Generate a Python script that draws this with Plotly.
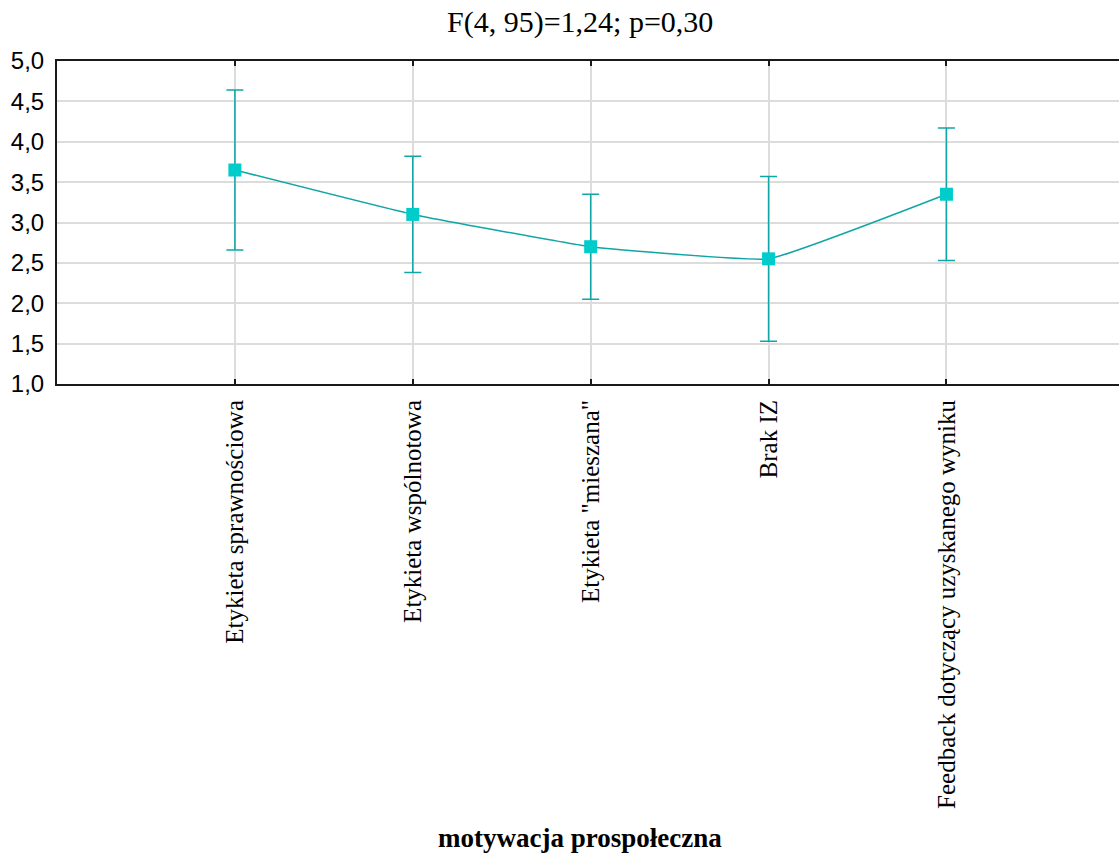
import plotly.graph_objects as go

categories = ["Etykieta sprawnościowa", "Etykieta wspólnotowa", "Etykieta \"mieszana\"",
              "Brak IZ", "Feedback dotyczący uzyskanego wyniku"]
means = [3.65, 3.10, 2.70, 2.55, 3.35]
err = [0.99, 0.72, 0.65, 1.02, 0.82]
y_ticks = [1.0, 1.5, 2.0, 2.5, 3.0, 3.5, 4.0, 4.5, 5.0]
title_text = "F(4, 95)=1,24; p=0,30"
x_title = "motywacja prospołeczna"

xpos = list(range(len(categories)))

W, H = 1119, 856
L, T, B = 57, 61, 472
R = 0
plot_w = W - L - R
plot_h = H - T - B

fig = go.Figure()
fig.add_trace(go.Scatter(
    x=xpos, y=means,
    mode="lines+markers",
    line=dict(color="#11a5a5", width=1.5, shape="spline", smoothing=0.3),
    marker=dict(symbol="square", size=13, color="#00cccc"),
    error_y=dict(type="data", array=err, visible=True, color="#11a5a5",
                 thickness=1.5, width=8.5),
    showlegend=False,
))

def px_to_paper(px, py):
    return (px - L) / plot_w, (T + plot_h - py) / plot_h

tx, ty = px_to_paper(580, 22)
ax_, ay_ = px_to_paper(580, 838)

fig.update_layout(
    width=W, height=H,
    paper_bgcolor="white", plot_bgcolor="white",
    margin=dict(l=L, r=R, t=T, b=B),
    separators=",.",
    font=dict(family="Liberation Serif", color="black"),
    xaxis=dict(
        range=[-1, 4.97],
        tickmode="array", tickvals=xpos, ticktext=categories,
        tickangle=-90,
        tickfont=dict(family="Liberation Serif", size=25, color="black"),
        ticklabelstandoff=4,
        showgrid=True, gridcolor="#dcdcdc", gridwidth=1.5,
        showline=True, linecolor="#1a1a1a", linewidth=2, mirror="ticks",
        ticks="inside", ticklen=5, tickcolor="#1a1a1a", tickwidth=2,
        zeroline=False,
    ),
    yaxis=dict(
        range=[1.0, 5.0],
        tickmode="array", tickvals=y_ticks,
        tickformat=".1f",
        tickfont=dict(family="Liberation Sans", size=24, color="black"),
        ticklabelstandoff=6,
        showgrid=True, gridcolor="#dcdcdc", gridwidth=1.5,
        showline=True, linecolor="#1a1a1a", linewidth=2,
        ticks="", zeroline=False,
    ),
    annotations=[
        dict(text=title_text, x=tx, y=ty, xref="paper", yref="paper",
             xanchor="center", yanchor="middle",
             showarrow=False, font=dict(family="Liberation Serif", size=30, color="black")),
        dict(text="<b>" + x_title + "</b>", x=ax_, y=ay_, xref="paper", yref="paper",
             xanchor="center", yanchor="middle",
             showarrow=False, font=dict(family="Liberation Serif", size=27, color="black")),
    ],
)

fig.write_html(
    "out.html",
    config={"displayModeBar": False},
    post_script="document.body.style.margin='0';document.body.style.overflow='hidden';",
)
